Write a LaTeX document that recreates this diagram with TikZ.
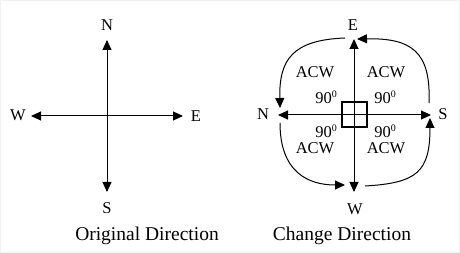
\documentclass[tikz,border=0pt]{standalone}
\usepackage{fontspec}
\setmainfont{Liberation Serif}
\usetikzlibrary{arrows.meta}
\newcommand{\degz}{\raisebox{6pt}{\fontsize{10}{10}\selectfont 0}}
\begin{document}
\begin{tikzpicture}[x=1pt,y=-1pt,
  lbl/.style={inner sep=0pt,font=\fontsize{16.5}{16.5}\selectfont},
  captxt/.style={inner sep=0pt,font=\fontsize{19.5}{20}\selectfont},
  darr/.style={line width=1pt,{Triangle[length=10pt,width=9pt]}-{Triangle[length=10pt,width=9pt]}},
  curv/.style={line width=1pt,-{Triangle[length=10pt,width=9pt]}}]
\draw[gray!12,line width=1pt] (0.5,0.5) rectangle (459.5,252.5);
\useasboundingbox (0,0) rectangle (460,253);
% left cross
\coordinate (ln) at (107,40);
\coordinate (ls) at (107,192);
\coordinate (lw) at (31,116);
\coordinate (le) at (183,116);
\draw[darr] (ls) -- (ln);
\draw[darr] (lw) -- (le);
\node[lbl] (tN) at (107,25) {N};
\node[lbl] (tS) at (107,208) {S};
\node[lbl] (tW) at (18,115) {W};
\node[lbl] (tE) at (196,116) {E};
\node[captxt] (c1) at (147,236) {Original Direction};
% right cross
\coordinate (re) at (354,39);
\coordinate (rw) at (354,192);
\coordinate (rn) at (278,115);
\coordinate (rs) at (431,115);
\draw[darr] (rw) -- (re);
\draw[darr] (rn) -- (rs);
\draw[line width=1.2pt] (342,102) rectangle (367,127);
\node[lbl] (uE) at (353,25) {E};
\node[lbl] (uW) at (355,209) {W};
\node[lbl] (uN) at (263,114) {N};
\node[lbl] (uS) at (443,114) {S};
\node[captxt] (c2) at (342,236) {Change Direction};
% curved arrows
\coordinate (a1) at (345,38);
\coordinate (a2) at (280,108);
\draw[curv] (a1) .. controls (292,40) and (279,60) .. (a2);
\coordinate (b1) at (429,103);
\coordinate (b2) at (357,39);
\draw[curv] (b1) .. controls (431,52) and (412,38) .. (b2);
\coordinate (c1a) at (280,123);
\coordinate (c2a) at (345,185);
\draw[curv] (c1a) .. controls (280,172) and (308,185) .. (c2a);
\coordinate (d1) at (365,186);
\coordinate (d2) at (430,118);
\draw[curv] (d1) .. controls (417,183) and (430,172) .. (d2);
% labels
\node[lbl] (k1) at (315,72) {ACW};
\node[lbl] (k2) at (386,72) {ACW};
\node[lbl] (k3) at (315,148) {ACW};
\node[lbl] (k4) at (386,148) {ACW};
\node[lbl] (g1) at (326,97) {90\degz};
\node[lbl] (g2) at (385,97) {90\degz};
\node[lbl] (g3) at (326,131) {90\degz};
\node[lbl] (g4) at (385,131) {90\degz};
\end{tikzpicture}
\end{document}
